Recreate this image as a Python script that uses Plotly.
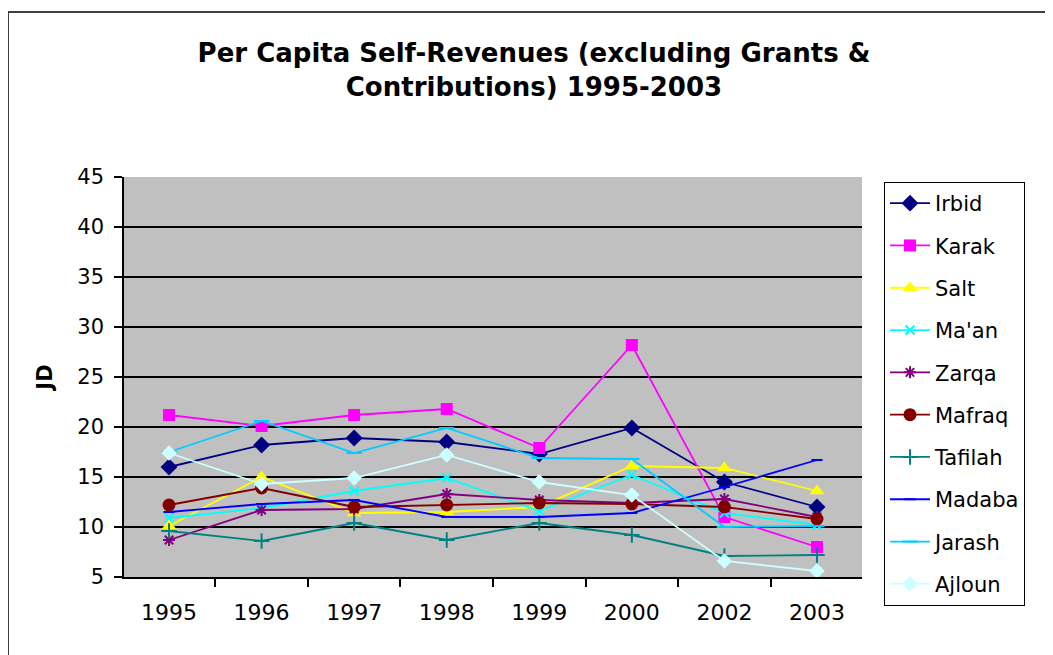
import plotly.graph_objects as go

years = ["1995", "1996", "1997", "1998", "1999", "2000", "2002", "2003"]

irbid = [16.0, 18.2, 18.9, 18.5, 17.3, 19.9, 14.5, 12.0]
karak = [21.2, 20.1, 21.2, 21.8, 17.9, 28.2, 11.0, 8.0]
salt = [10.1, 15.0, 11.4, 11.5, 12.0, 16.1, 15.9, 13.6]
maan = [10.9, 11.9, 13.6, 14.9, 11.6, 15.2, 11.4, 10.2]
zarqa = [8.7, 11.7, 11.8, 13.3, 12.7, 12.4, 12.8, 11.0]
mafraq = [12.2, 13.9, 12.0, 12.2, 12.4, 12.3, 12.0, 10.8]
tafilah = [9.6, 8.6, 10.4, 8.7, 10.4, 9.2, 7.1, 7.2]
madaba = [11.5, 12.3, 12.7, 11.0, 11.0, 11.4, 14.0, 16.7]
jarash = [17.5, 20.6, 17.4, 19.9, 16.9, 16.8, 10.0, 10.1]
ajloun = [17.4, 14.3, 14.9, 17.2, 14.5, 13.2, 6.6, 5.6]

# name, values, colour, symbol, size
series = [
    ("Irbid", irbid, "#000080", "diamond", 13),
    ("Karak", karak, "#FF00FF", "square", 12),
    ("Salt", salt, "#FFFF00", "triangle-up", 13),
    ("Ma'an", maan, "#00FFFF", "x-thin", 9),
    ("Zarqa", zarqa, "#800080", "asterisk", 10),
    ("Mafraq", mafraq, "#800000", "circle", 13),
    ("Tafilah", tafilah, "#008080", "cross-thin", 11),
    ("Madaba", madaba, "#0000FF", "line-ew", 8),
    ("Jarash", jarash, "#00CCFF", "line-ew", 11),
    ("Ajloun", ajloun, "#CCFFFF", "diamond", 12),
]

fig = go.Figure()

for name, vals, col, sym, sz in series:
    fig.add_trace(go.Scatter(
        x=years,
        y=vals,
        name=name,
        legendgroup=name,
        mode="lines+markers",
        line=dict(color=col, width=1.8),
        marker=dict(symbol=sym, size=sz, color=col,
                    line=dict(color=col, width=2 if "thin" in sym or sym in ("asterisk", "line-ew") else 0)),
    ))

# plot area edges in px (page adds an 8px body margin)
L, R, T, B = 116, 854, 169, 569

fig.update_layout(
    width=1053,
    height=655,
    margin=dict(l=L, r=1053 - R, t=T, b=655 - B, autoexpand=False),
    paper_bgcolor="white",
    plot_bgcolor="#C0C0C0",
    font=dict(family="DejaVu Sans", size=21, color="black"),
    title=dict(
        text="Per Capita Self-Revenues (excluding Grants &<br>Contributions) 1995-2003",
        x=0.4995, xref="container", xanchor="center",
        y=0.918, yref="container", yanchor="top",
        font=dict(family="DejaVu Sans", size=26, weight="bold", color="black"),
    ),
    xaxis=dict(
        type="category",
        showgrid=False,
        showline=True, linecolor="black", linewidth=1.5,
        ticks="outside", tickson="boundaries", ticklen=8, tickcolor="black", tickwidth=1.5,
        tickfont=dict(size=22),
        ticklabelstandoff=15,
        zeroline=False,
    ),
    yaxis=dict(
        range=[5, 45], dtick=5, tick0=5,
        showgrid=True, gridcolor="black", gridwidth=1.5,
        showline=True, linecolor="black", linewidth=1.5,
        ticks="outside", ticklen=8, tickcolor="black", tickwidth=1.5,
        tickfont=dict(size=21),
        ticklabelstandoff=6,
        zeroline=False,
        title=dict(text="JD", font=dict(size=21, weight="bold"), standoff=19),
    ),
    legend=dict(
        x=(876 - L) / (R - L), xanchor="left",
        y=(B - 174) / (B - T), yanchor="top",
        bgcolor="white", bordercolor="black", borderwidth=1,
        font=dict(size=21),
        tracegroupgap=12,
        itemwidth=40,
        maxheight=470,
    ),
    shapes=[dict(
        type="rect", xref="paper", yref="paper",
        x0=(0 - L) / (R - L), x1=1.6,
        y0=-0.5, y1=(B - 4) / (B - T),
        line=dict(color="#404040", width=2),
        layer="above",
    )],
)

fig.write_html("out.html")
